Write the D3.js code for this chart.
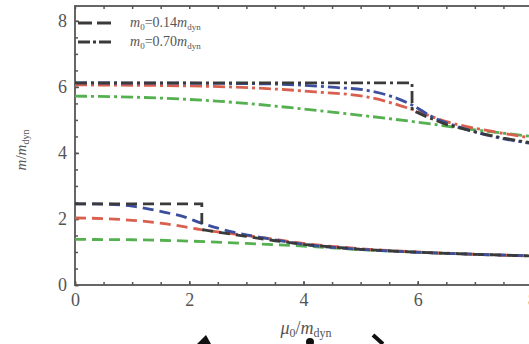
<!DOCTYPE html>
<html>
<head>
<meta charset="utf-8">
<script src="https://cdn.jsdelivr.net/npm/d3@7/dist/d3.min.js"></script>
<style>
  body { margin: 0; background: #fff; }
  svg { display: block; }
  text { font-family: "Liberation Serif", "DejaVu Serif", serif; fill: #555; }
</style>
</head>
<body>
<div id="wrapper"></div>
<script>
// m0 = 0.14 m_dyn (dashed)
const lowBlack = [[0,2.46],[2.22,2.46],[2.22,1.68],[2.5,1.6],[3,1.47],[3.5,1.34],[4,1.23],[5,1.08],[6,0.99],[7,0.93],[8,0.88]];
const lowBlue = [[0,2.46],[0.5,2.45],[1.0,2.39],[1.3,2.3],[1.6,2.19],[1.9,2.07],[2.2,1.88],[2.5,1.72],[2.77,1.6],[3.35,1.41],[4,1.23],[5,1.08],[6,0.99],[7,0.93],[8,0.88]];
const lowRed = [[0,2.03],[0.5,2.01],[1.0,1.96],[1.6,1.85],[2.2,1.68],[2.77,1.55],[3.35,1.42],[4,1.26],[5,1.1],[6,1.0],[7,0.93],[8,0.88]];
const lowGreen = [[0,1.38],[1,1.37],[2,1.33],[3,1.26],[4,1.18],[5,1.07],[6,0.99],[7,0.93],[8,0.88]];

// m0 = 0.70 m_dyn (dash-dot)
const highBlack = [[0,6.12],[5.9,6.12],[5.9,5.3],[6.15,5.1],[6.5,4.86],[7.08,4.6],[7.5,4.45],[8,4.3]];
const highBlue = [[0,6.12],[3,6.1],[4,6.05],[4.5,5.99],[5.16,5.88],[5.56,5.7],[5.9,5.45],[6.27,5.08],[6.73,4.78],[7.31,4.5],[8,4.28]];
const highRed = [[0,6.06],[2,6.03],[3.23,5.96],[4.2,5.85],[5.16,5.68],[5.9,5.32],[6.5,4.95],[7.31,4.65],[8,4.45]];
const highGreen = [[0,5.72],[1,5.69],[2,5.62],[3,5.5],[4,5.33],[5,5.14],[6,4.93],[7,4.7],[8,4.5]];

const xTicks = [0, 2, 4, 6, 8];
const yTicks = [0, 2, 4, 6, 8];
const legendLabels = ["0.14", "0.70"];

const dimension = {
    width: 529,
    height: 344,
    margin: { top: 6, left: 75, bottom: 59, right: -3 }
};
dimension.boundedWidth = dimension.width - dimension.margin.left - dimension.margin.right;
dimension.boundedHeight = dimension.height - dimension.margin.top - dimension.margin.bottom;

const svg = d3.select("#wrapper").append("svg")
    .attr("width", dimension.width)
    .attr("height", dimension.height);
svg.append("rect").attr("width", dimension.width).attr("height", dimension.height).attr("fill", "#fff");

const bounded = svg.append("g")
    .attr("transform", `translate(${dimension.margin.left},${dimension.margin.top})`);

const xScaler = d3.scaleLinear().domain([0, 8]).range([0, dimension.boundedWidth]);
const yScaler = d3.scaleLinear().domain([0, 8.45]).range([dimension.boundedHeight, 0]);

// frame
bounded.append("rect")
    .attr("width", dimension.boundedWidth)
    .attr("height", dimension.boundedHeight)
    .attr("fill", "none")
    .attr("stroke", "#666")
    .attr("stroke-width", 2);

const minorX = d3.range(0, 8.01, 0.5);
const minorY = d3.range(0, 8.45, 0.5);

function styleAxis(g) {
    g.select(".domain").remove();
    g.selectAll(".tick line").attr("stroke", "#555").attr("stroke-width", 1.5);
}

bounded.append("g")
    .attr("transform", `translate(0,${dimension.boundedHeight})`)
    .call(d3.axisBottom(xScaler).tickValues(minorX).tickSize(-3).tickFormat(""))
    .call(styleAxis);
bounded.append("g")
    .call(d3.axisTop(xScaler).tickValues(minorX).tickSize(-3).tickFormat(""))
    .call(styleAxis);
bounded.append("g")
    .call(d3.axisLeft(yScaler).tickValues(minorY).tickSize(-3).tickFormat(""))
    .call(styleAxis);
bounded.append("g")
    .attr("transform", `translate(${dimension.boundedWidth},0)`)
    .call(d3.axisRight(yScaler).tickValues(minorY).tickSize(-3).tickFormat(""))
    .call(styleAxis);

// tick labels
const xAxis = bounded.append("g")
    .attr("transform", `translate(0,${dimension.boundedHeight})`)
    .call(d3.axisBottom(xScaler).tickValues(xTicks).tickSize(-4).tickPadding(8).tickFormat(d3.format("d")))
    .call(styleAxis);
xAxis.selectAll("text").style("font-size", "18px").attr("fill", "#555");

const yAxis = bounded.append("g")
    .call(d3.axisLeft(yScaler).tickValues(yTicks).tickSize(-4).tickPadding(8).tickFormat(d3.format("d")))
    .call(styleAxis);
yAxis.selectAll("text").style("font-size", "18px").attr("fill", "#555");

// curves
const smooth = d3.line()
    .x(d => xScaler(d[0]))
    .y(d => yScaler(d[1]))
    .curve(d3.curveMonotoneX);
const straight = d3.line()
    .x(d => xScaler(d[0]))
    .y(d => yScaler(d[1]));

const dashed = "11,6";
const dashDot = "12,4,3,4";

const series = [
    { data: highGreen, color: "#55b04f", dash: dashDot, gen: smooth },
    { data: highRed, color: "#d9604f", dash: dashDot, gen: smooth },
    { data: highBlue, color: "#3b4f9e", dash: dashDot, gen: smooth },
    { data: highBlack, color: "#3a3a3a", dash: dashDot, gen: straight },
    { data: lowGreen, color: "#55b04f", dash: dashed, gen: smooth },
    { data: lowRed, color: "#d9604f", dash: dashed, gen: smooth },
    { data: lowBlue, color: "#3b4f9e", dash: dashed, gen: smooth },
    { data: lowBlack, color: "#3a3a3a", dash: dashed, gen: straight }
];

bounded.selectAll(".curve")
    .data(series)
    .join("path")
    .attr("class", "curve")
    .attr("d", d => d.gen(d.data))
    .attr("fill", "none")
    .attr("stroke", d => d.color)
    .attr("stroke-width", 2.8)
    .attr("stroke-dasharray", d => d.dash);

// legend
const legend = bounded.append("g").attr("transform", "translate(3,17)");
const rows = legend.selectAll("g")
    .data(legendLabels)
    .join("g")
    .attr("transform", (d, i) => `translate(0,${i * 19})`);
rows.append("line")
    .attr("x1", 0).attr("x2", 36)
    .attr("stroke", "#3a3a3a")
    .attr("stroke-width", 2.8)
    .attr("stroke-dasharray", (d, i) => i === 0 ? "14,5" : "12,3,3,3");
const lt = rows.append("text")
    .attr("x", 52).attr("y", 4)
    .style("font-size", "14px")
    .attr("fill", "#666");
lt.append("tspan").attr("font-style", "italic").text("m");
lt.append("tspan").attr("dy", 3).style("font-size", "9px").text("0");
lt.append("tspan").attr("dy", -3).text(d => "=" + d);
lt.append("tspan").attr("font-style", "italic").text("m");
lt.append("tspan").attr("dy", 3).style("font-size", "9px").text("dyn");

// axis titles
const yl = svg.append("text")
    .attr("transform", "translate(26,150) rotate(-90)")
    .attr("text-anchor", "middle")
    .style("font-size", "15px");
yl.append("tspan").attr("font-style", "italic").text("m");
yl.append("tspan").text("/");
yl.append("tspan").attr("font-style", "italic").text("m");
yl.append("tspan").attr("dy", 3).style("font-size", "10px").text("dyn");

const xl = svg.append("text")
    .attr("x", 306).attr("y", 334)
    .attr("text-anchor", "middle")
    .style("font-size", "18px");
xl.append("tspan").attr("font-style", "italic").text("μ");
xl.append("tspan").attr("dy", 3).style("font-size", "12px").text("0");
xl.append("tspan").attr("dy", -3).text("/");
xl.append("tspan").attr("font-style", "italic").text("m");
xl.append("tspan").attr("dy", 3).style("font-size", "12px").text("dyn");

// cut-off marks at the bottom edge of the picture
svg.append("path").attr("d", "M197,344 L206,335 L211,344 Z").attr("fill", "#111");
svg.append("circle").attr("cx", 310).attr("cy", 342).attr("r", 4).attr("fill", "#111");
svg.append("line").attr("x1", 373).attr("y1", 335).attr("x2", 383).attr("y2", 344)
    .attr("stroke", "#111").attr("stroke-width", 4);
</script>
</body>
</html>
